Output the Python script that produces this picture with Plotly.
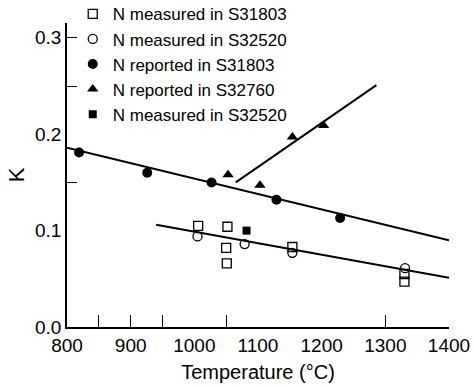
import plotly.graph_objects as go

# Partition coefficient K of nitrogen versus annealing temperature
meas_s31803_T = [1006, 1052, 1050, 1051, 1154, 1330, 1330]
meas_s31803_K = [0.105, 0.104, 0.082, 0.066, 0.083, 0.055, 0.047]

meas_s32520_T = [1005, 1079, 1154, 1331]
meas_s32520_K = [0.094, 0.086, 0.077, 0.061]

rep_s31803_T = [819, 926, 1027, 1129, 1229]
rep_s31803_K = [0.181, 0.160, 0.150, 0.132, 0.113]

rep_s32760_T = [1053, 1103, 1154, 1203]
rep_s32760_K = [0.158, 0.147, 0.197, 0.209]

meas2_s32520_T = [1082]
meas2_s32520_K = [0.100]

# Fitted trend lines (end points)
fit_upper_T = [800, 1400]
fit_upper_K = [0.186, 0.090]
fit_lower_T = [940, 1400]
fit_lower_K = [0.106, 0.051]
fit_s32760_T = [1065, 1286]
fit_s32760_K = [0.150, 0.251]

x_labels = [800, 900, 1000, 1100, 1200, 1300, 1400]
x_inner_ticks = [850, 900, 950, 1050, 1300, 1400]
y_labels = [0.0, 0.1, 0.2, 0.3]
y_inner_ticks = [0.15, 0.25, 0.3]

X_RANGE = [800, 1400]
Y_RANGE = [0, 0.3154]
FONT = "Liberation Sans, Arial, Helvetica, sans-serif"

fig = go.Figure()

for xs, ys in [(fit_upper_T, fit_upper_K), (fit_lower_T, fit_lower_K), (fit_s32760_T, fit_s32760_K)]:
    fig.add_trace(go.Scatter(x=xs, y=ys, mode="lines", line=dict(color="black", width=2),
                             showlegend=False, hoverinfo="skip"))

fig.add_trace(go.Scatter(x=meas_s31803_T, y=meas_s31803_K, mode="markers",
                         name="N measured in S31803",
                         marker=dict(symbol="square-open", size=9, color="black", line=dict(width=1.3))))
fig.add_trace(go.Scatter(x=meas_s32520_T, y=meas_s32520_K, mode="markers",
                         name="N measured in S32520",
                         marker=dict(symbol="circle-open", size=9, color="black", line=dict(width=1.3))))
fig.add_trace(go.Scatter(x=rep_s31803_T, y=rep_s31803_K, mode="markers",
                         name="N reported in S31803",
                         marker=dict(symbol="circle", size=10, color="black")))
fig.add_trace(go.Scatter(x=rep_s32760_T, y=rep_s32760_K, mode="markers",
                         name="N reported in S32760",
                         marker=dict(symbol="triangle-up", size=10, color="black")))
fig.add_trace(go.Scatter(x=meas2_s32520_T, y=meas2_s32520_K, mode="markers",
                         name="N measured in S32520",
                         marker=dict(symbol="square", size=8, color="black")))

# empty trace so the overlay axes carrying the inner tick marks get drawn
fig.add_trace(go.Scatter(x=[], y=[], xaxis="x2", yaxis="y2", showlegend=False, hoverinfo="skip"))

fig.update_layout(
    width=474, height=387,
    margin=dict(l=67, r=25, t=23, b=60, autoexpand=False),
    paper_bgcolor="white", plot_bgcolor="white",
    font=dict(family=FONT, color="black", size=19),
    showlegend=True,
    legend=dict(x=0.015, y=1.088, xanchor="left", yanchor="top",
                bgcolor="rgba(0,0,0,0)", font=dict(size=17, family=FONT),
                itemwidth=30, tracegroupgap=0),
    xaxis=dict(range=X_RANGE, tickvals=x_labels, ticks="", showgrid=False, zeroline=False,
               showline=True, linecolor="black", linewidth=1.5, automargin=False,
               tickfont=dict(size=19),
               title=dict(text="Temperature (°C)", font=dict(size=20), standoff=10)),
    yaxis=dict(range=Y_RANGE, tickvals=y_labels, ticktext=["0.0", "0.1", "0.2", "0.3"],
               ticks="", showgrid=False, zeroline=False,
               showline=True, linecolor="black", linewidth=1.5, automargin=False,
               tickfont=dict(size=19),
               title=dict(text="K", font=dict(size=22), standoff=4)),
    xaxis2=dict(range=X_RANGE, overlaying="x", anchor="y2", side="bottom", automargin=False,
                tickvals=x_inner_ticks, ticks="inside", ticklen=12, tickwidth=1.3, tickcolor="black",
                showticklabels=False, showgrid=False, zeroline=False, showline=False),
    yaxis2=dict(range=Y_RANGE, overlaying="y", anchor="x2", side="left", automargin=False,
                tickvals=y_inner_ticks, ticks="inside", ticklen=10, tickwidth=1.3, tickcolor="black",
                showticklabels=False, showgrid=False, zeroline=False, showline=False),
)

fig.write_html("out.html")
